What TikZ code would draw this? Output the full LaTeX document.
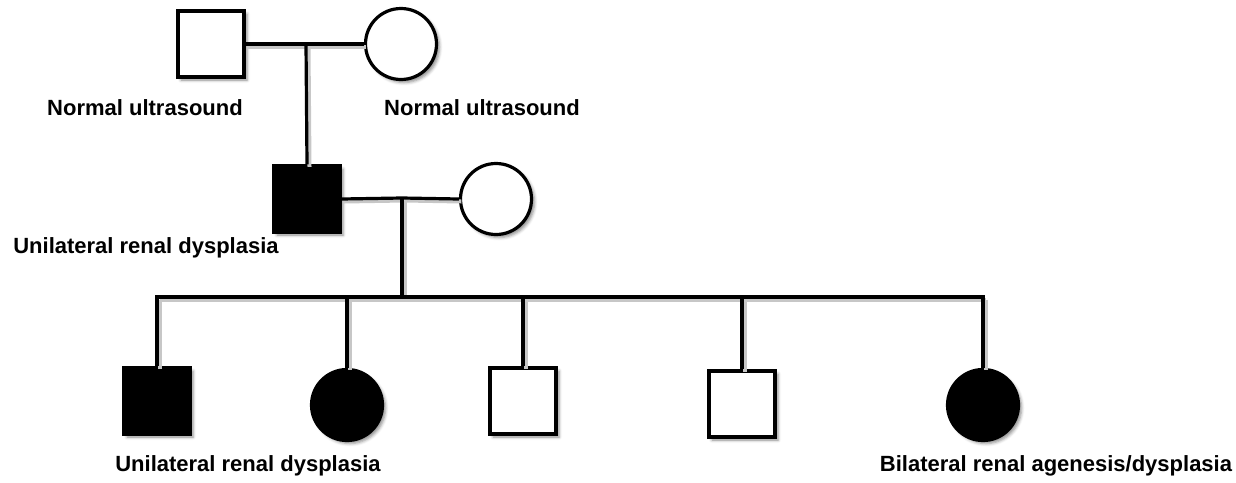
\documentclass[tikz,border=0pt]{standalone}
\usepackage{fontspec}
\setmainfont{Liberation Sans}
\usetikzlibrary{shadows.blur}
\tikzset{
  sq/.style={draw=black, line width=3.2pt, minimum size=66pt, inner sep=0pt, fill=white,
    blur shadow={shadow xshift=3pt, shadow yshift=-3pt, shadow blur radius=3pt, shadow opacity=45}},
  ci/.style={draw=black, line width=3.2pt, circle, minimum size=71pt, inner sep=0pt, fill=white,
    blur shadow={shadow xshift=3pt, shadow yshift=-3pt, shadow blur radius=3pt, shadow opacity=45}},
  aff/.style={fill=black},
  lbl/.style={font=\bfseries\fontsize{22}{26}\selectfont, inner sep=0pt},
  ln/.style={line width=3.2pt, preaction={draw=black!22, line width=4pt, transform canvas={shift={(2.5pt,-2.5pt)}}}},
}
\begin{document}
\begin{tikzpicture}[x=1pt,y=-1pt]
\useasboundingbox (0,0) rectangle (1236,482);
% individuals
\node[sq] (f1) at (211,44) {};
\node[ci] (f2) at (401,44) {};
\node[sq,aff] (g1) at (307,199) {};
\node[ci] (g2) at (496,199) {};
\node[sq,aff] (k1) at (157,401) {};
\node[ci,aff] (k2) at (347,405) {};
\node[sq] (k3) at (523,401) {};
\node[sq] (k4) at (742,404) {};
\node[ci,aff] (k5) at (983,405) {};
% connector junctions
\coordinate (m1) at (306,44);
\coordinate (m2) at (402,198);
\coordinate (s2) at (402,297);
\coordinate (c1) at (157,297);
\coordinate (c2) at (347,297);
\coordinate (c3) at (523,297);
\coordinate (c4) at (742,297);
\coordinate (c5) at (983,297);
% lines
\draw[ln] (f1.east) -- (m1);
\draw[ln] (m1) -- (f2.west);
\draw[ln] (m1) -- (g1.north);
\draw[ln] (g1.east) -- (m2);
\draw[ln] (m2) -- (g2.west);
\draw[ln] (m2) -- (s2);
\draw[ln,line cap=rect] (c1) -- (c5);
\draw[ln] (c1) -- (k1.north);
\draw[ln] (c2) -- (k2.north);
\draw[ln] (c3) -- (k3.north);
\draw[ln] (c4) -- (k4.north);
\draw[ln] (c5) -- (k5.north);
% labels
\node[lbl] (l1) at (145,108) {Normal ultrasound};
\node[lbl] (l2) at (482,108) {Normal ultrasound};
\node[lbl] (l3) at (146,248) {Unilateral renal dysplasia};
\node[lbl] (l4) at (248,466) {Unilateral renal dysplasia};
\node[lbl] (l5) at (1056,466) {Bilateral renal agenesis/dysplasia};
\end{tikzpicture}
\end{document}
